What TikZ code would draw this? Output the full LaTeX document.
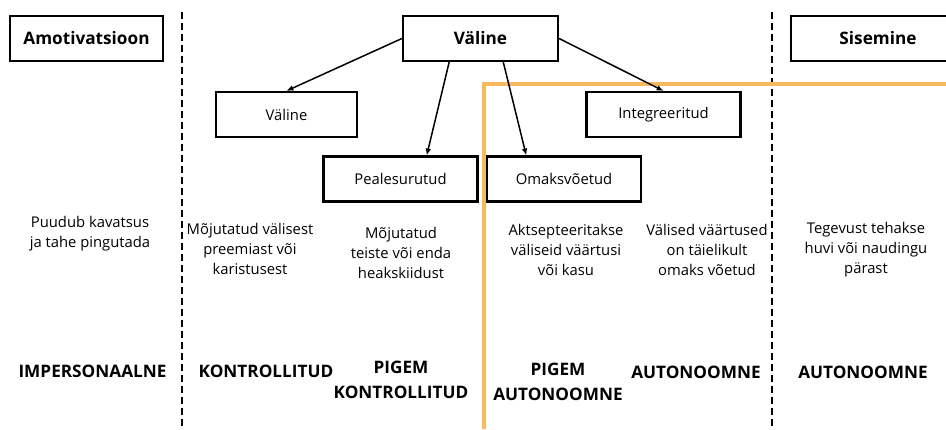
\documentclass[tikz,border=0pt]{standalone}
\usepackage{fontspec}
\setmainfont{Open Sans}
\usetikzlibrary{arrows.meta}
\definecolor{linieoranz}{RGB}{247,186,92}

\begin{document}
\begin{tikzpicture}[x=1pt, y=-1pt, >={Latex[length=2.4mm,width=2mm]},
	every node/.style={font=\fontsize{14.8}{20}\selectfont, align=center, inner sep=0pt},
	pealkast/.style={draw, line width=2.2pt, minimum height=45pt, font=\fontsize{17.2}{20}\selectfont\bfseries},
	alamkast/.style={draw, line width=2.2pt, minimum width=154pt, minimum height=45pt},
	tyyp/.style={font=\fontsize{17.2}{25}\selectfont\bfseries}]
	\useasboundingbox (0,0) rectangle (946,429);
	\clip (0,0) rectangle (946,429);
	% eraldusjooned
	\coordinate (j1a) at (182,12); \coordinate (j1b) at (182,429);
	\coordinate (j2a) at (772,12); \coordinate (j2b) at (772,429);
	\draw[line width=1.5pt, dash pattern=on 7pt off 4pt] (j1a) -- (j1b);
	\draw[line width=1.5pt, dash pattern=on 7pt off 4pt] (j2a) -- (j2b);
	% oranz piir
	\draw[linieoranz, line width=4pt] (484,429) -- (484,84) -- (946,84);
	% kastid
	\node[pealkast, minimum width=153pt] (amot) at (86.5,38.5) {Amotivatsioon};
	\node[pealkast, minimum width=155pt] (valine) at (480.5,38.5) {Väline};
	\node[pealkast, minimum width=174pt] (sisemine) at (878,38.5) {Sisemine};
	\node[alamkast, minimum width=141pt] (valine2) at (286.5,114.5) {Väline};
	\node[alamkast] (integr) at (663.5,114.5) {Integreeritud};
	\node[alamkast] (peal) at (400.5,179) {Pealesurutud};
	\node[alamkast] (omaks) at (564,179) {Omaksvõetud};
	% nooled
	\draw[->, line width=1.5pt] (valine.west) -- (valine2.north);
	\draw[->, line width=1.5pt] (valine.217) -- (peal.42);
	\draw[->, line width=1.5pt] (valine.314) -- (omaks.148);
	\draw[->, line width=1.5pt] (valine.east) -- (integr.north);
	% kirjeldused
	\node (k1) at (90,234) {Puudub kavatsus\\ja tahe pingutada};
	\node (k2) at (250,249) {Mõjutatud välisest\\preemiast või\\karistusest};
	\node (k3) at (401,253) {Mõjutatud\\teiste või enda\\heakskiidust};
	\node (k4) at (566,250) {Aktsepteeritakse\\väliseid väärtusi\\või kasu};
	\node (k5) at (707,250) {Välised väärtused\\on täielikult\\omaks võetud};
	\node (k6) at (866,250) {Tegevust tehakse\\huvi või naudingu\\pärast};
	% regulatsiooni tüübid
	\node[tyyp] (t1) at (92.5,371) {IMPERSONAALNE};
	\node[tyyp] (t2) at (266,371) {KONTROLLITUD};
	\node[tyyp] (t3) at (401,379.5) {PIGEM\\KONTROLLITUD};
	\node[tyyp] (t4) at (558,381.5) {PIGEM\\AUTONOOMNE};
	\node[tyyp] (t5) at (696,372) {AUTONOOMNE};
	\node[tyyp] (t6) at (863,372) {AUTONOOMNE};
\end{tikzpicture}
\end{document}
